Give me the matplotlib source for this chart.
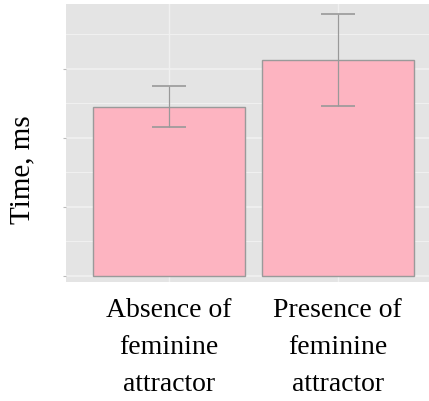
import matplotlib
matplotlib.use('Agg')
import matplotlib.pyplot as plt
from matplotlib.ticker import MultipleLocator, NullFormatter

# mean reaction time and spread per condition
conditions = ['Absence of\nfeminine\nattractor', 'Presence of\nfeminine\nattractor']
mean_time = [245, 313]
err_time = [30, 67]

PANEL = '#E4E4E4'
GRID = '#F0F0F0'
PINK = '#FDB4C1'
EDGE = '#9A9A9A'
ERR = '#999999'

fig = plt.figure(figsize=(4.29, 4.02), dpi=100)
ax = fig.add_axes([66 / 429, 119 / 402, 363 / 429, 278 / 402])
ax.set_facecolor(PANEL)
for s in ax.spines.values():
    s.set_visible(False)

x = [1, 2]
ax.bar(x, mean_time, width=0.9, color=PINK, edgecolor=EDGE, linewidth=1.0, zorder=3)
ax.errorbar(x, mean_time, yerr=err_time, fmt='none', ecolor=ERR,
            elinewidth=0.9, capsize=12, capthick=1.2, zorder=4)

ax.set_xlim(0.39, 2.54)
ax.set_ylim(-9, 394)
ax.yaxis.set_major_locator(MultipleLocator(100))
ax.yaxis.set_minor_locator(MultipleLocator(50))
ax.yaxis.set_major_formatter(NullFormatter())
ax.grid(which='major', axis='y', color=GRID, lw=1.3, zorder=1)
ax.grid(which='minor', axis='y', color=GRID, lw=0.8, zorder=1)
ax.grid(which='major', axis='x', color=GRID, lw=1.0, zorder=1)
ax.tick_params(axis='y', which='major', length=2, color='#BBBBBB')
ax.tick_params(axis='y', which='minor', length=0)

ax.set_xticks(x)
ax.set_xticklabels(conditions, family='Liberation Serif', fontsize=20,
                   linespacing=1.62)
ax.tick_params(axis='x', length=0, pad=11)

ax.set_ylabel('Time, ms', family='Liberation Serif', fontsize=21)
ax.yaxis.set_label_coords(-0.085, 0.406)

fig.savefig('out.png', dpi=100, facecolor='white')
